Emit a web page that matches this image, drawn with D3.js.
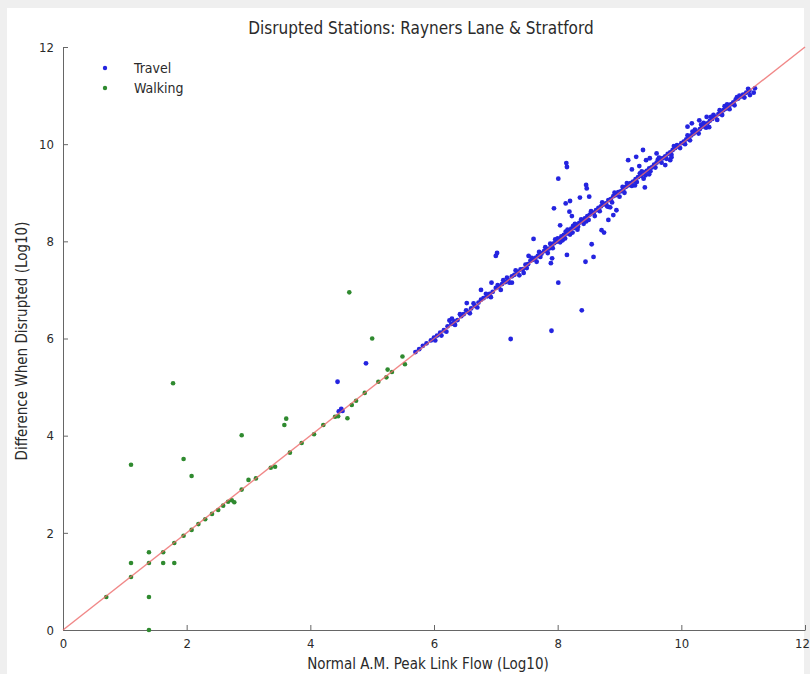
<!DOCTYPE html>
<html>
<head>
<meta charset="utf-8">
<script src="https://cdn.jsdelivr.net/npm/d3@7"></script>
<style>
  body { margin: 0; background: #efefef; }
  text { font-family: "Liberation Sans Narrow", "DejaVu Sans Condensed", sans-serif; fill: #2a2a2a; }
</style>
</head>
<body>
<div id="chart"></div>
<script>
// tick values on both axes
var ticks = [0, 2, 4, 6, 8, 10, 12];

// walking points [normal flow, disrupted] (log10)
var walking = [
  [0.70, 0.68], [1.10, 1.09], [1.39, 1.38], [1.62, 1.60], [1.80, 1.79], [1.95, 1.94],
  [2.08, 2.06], [2.19, 2.18], [2.30, 2.28], [2.41, 2.39], [2.51, 2.47], [2.59, 2.56],
  [2.67, 2.64], [2.73, 2.67], [2.77, 2.63], [2.89, 2.89], [3.00, 3.09], [3.12, 3.12],
  [3.36, 3.34], [3.43, 3.36], [3.67, 3.65], [3.86, 3.85], [4.06, 4.03], [4.21, 4.22],
  [4.40, 4.39], [4.45, 4.40], [4.67, 4.63], [4.74, 4.72], [4.88, 4.88], [5.10, 5.11],
  [5.23, 5.20], [5.32, 5.31], [5.53, 5.47],
  [1.10, 3.40], [1.78, 5.08], [1.95, 3.52], [2.08, 3.17], [1.39, 1.60], [1.10, 1.38],
  [1.62, 1.38], [1.80, 1.38], [1.39, 0.68], [1.39, 0.00], [2.89, 4.01], [3.61, 4.35],
  [3.58, 4.22], [4.60, 4.36], [4.63, 6.95], [5.00, 6.00], [5.25, 5.36], [5.49, 5.63]
];

// travel points [normal flow, disrupted] (log10)
var travel = [
  [4.46, 4.50], [4.50, 4.55], [4.52, 4.51], [4.44, 5.11], [4.90, 5.49],
  [5.70, 5.72], [5.76, 5.78], [5.82, 5.85], [5.88, 5.90], [5.95, 5.96], [6.00, 6.02],
  [6.05, 6.06], [6.10, 6.12], [6.16, 6.17], [6.22, 6.25], [6.28, 6.30], [6.25, 6.37],
  [6.33, 6.35], [6.38, 6.38], [6.44, 6.46], [6.48, 6.50], [6.52, 6.58], [6.55, 6.55],
  [6.60, 6.62], [6.66, 6.67], [6.72, 6.74], [6.76, 6.80], [6.80, 6.83], [6.86, 6.87],
  [6.90, 6.92], [6.95, 6.96], [7.00, 7.04], [7.03, 7.10], [7.05, 7.06], [7.10, 7.12],
  [7.15, 7.16], [7.18, 7.25], [7.20, 7.21], [7.26, 7.28], [7.30, 7.31], [7.35, 7.37],
  [7.40, 7.42], [7.44, 7.43], [7.45, 7.35], [7.48, 7.52], [7.52, 7.53], [7.56, 7.60],
  [7.60, 7.62], [7.64, 7.66], [7.68, 7.70], [7.70, 7.78], [7.74, 7.75], [7.78, 7.80],
  [7.82, 7.84], [7.86, 7.85], [7.88, 7.95], [7.90, 7.92], [7.94, 7.96], [7.98, 7.99],
  [8.00, 8.06], [8.03, 8.04], [8.06, 8.10], [8.08, 8.02], [8.10, 8.13], [8.13, 8.20],
  [8.15, 8.16], [8.18, 8.22], [8.20, 8.14], [8.22, 8.26], [8.25, 8.32], [8.27, 8.28],
  [8.30, 8.34], [8.33, 8.30], [8.35, 8.38], [8.38, 8.45], [8.40, 8.42], [8.44, 8.47],
  [8.46, 8.41], [8.48, 8.52], [8.52, 8.55], [8.55, 8.60], [8.58, 8.58], [8.62, 8.64],
  [8.66, 8.69], [8.70, 8.72], [8.74, 8.76], [8.78, 8.78], [8.82, 8.85], [8.85, 8.70],
  [8.86, 8.87], [8.90, 8.93], [8.94, 8.95], [8.98, 9.01], [9.02, 9.03], [9.05, 9.12],
  [9.06, 9.06], [9.10, 9.12], [9.14, 9.15], [9.18, 9.20], [9.22, 9.23], [9.25, 9.15],
  [9.26, 9.28], [9.30, 9.32], [9.33, 9.40], [9.35, 9.35], [9.40, 9.42], [9.44, 9.45],
  [9.48, 9.50], [9.52, 9.52], [9.56, 9.58], [9.60, 9.62], [9.62, 9.68], [9.65, 9.66],
  [9.70, 9.71], [9.74, 9.75], [9.78, 9.80], [9.82, 9.83], [9.86, 9.88], [9.90, 9.92],
  [9.93, 9.98], [9.95, 9.95], [10.00, 10.02], [10.04, 10.05], [10.08, 10.10], [10.10, 10.18],
  [10.12, 10.13], [10.16, 10.18], [10.20, 10.22], [10.22, 10.30], [10.25, 10.26], [10.30, 10.31],
  [10.34, 10.36], [10.36, 10.44], [10.38, 10.40], [10.42, 10.43], [10.45, 10.35], [10.46, 10.48],
  [10.50, 10.52], [10.52, 10.60], [10.55, 10.56], [10.60, 10.62], [10.64, 10.65], [10.68, 10.70],
  [10.70, 10.78], [10.72, 10.73], [10.76, 10.78], [10.80, 10.82], [10.84, 10.86], [10.88, 10.92],
  [10.92, 10.94], [10.96, 10.98], [11.00, 11.02], [11.05, 11.06], [11.10, 11.10], [11.11, 11.01],
  [11.17, 11.06], [11.19, 11.15],
  // band thickness either side of the diagonal
  [6.02, 5.96], [6.12, 6.06], [6.20, 6.14], [6.34, 6.28], [6.42, 6.50], [6.58, 6.52],
  [6.64, 6.72], [6.70, 6.64], [6.84, 6.92], [6.92, 6.85], [7.08, 7.00], [7.12, 7.20],
  [7.22, 7.15], [7.32, 7.40], [7.38, 7.30], [7.50, 7.45], [7.58, 7.66], [7.66, 7.58],
  [7.72, 7.68], [7.80, 7.88], [7.84, 7.76], [7.92, 7.86], [7.96, 8.04], [8.04, 7.98],
  [8.12, 8.06], [8.16, 8.24], [8.24, 8.18], [8.28, 8.36], [8.32, 8.24], [8.42, 8.36],
  [8.50, 8.44], [8.54, 8.62], [8.60, 8.52], [8.68, 8.62], [8.72, 8.80], [8.80, 8.72],
  [8.88, 8.80], [8.92, 9.00], [9.00, 8.92], [9.08, 9.00], [9.12, 9.20], [9.20, 9.14],
  [9.28, 9.22], [9.36, 9.44], [9.42, 9.36], [9.50, 9.44], [9.58, 9.52], [9.64, 9.72],
  [9.68, 9.62], [9.76, 9.70], [9.84, 9.78], [9.88, 9.96], [9.98, 9.92], [10.06, 10.00],
  [10.14, 10.08], [10.18, 10.26], [10.28, 10.22], [10.32, 10.40], [10.40, 10.34], [10.48, 10.56],
  [10.58, 10.50], [10.62, 10.70], [10.66, 10.60], [10.74, 10.82], [10.78, 10.72], [10.86, 10.80],
  [10.94, 11.00], [11.02, 10.96], [11.08, 11.14],
  // off-diagonal
  [6.29, 6.41], [6.53, 6.73], [6.76, 7.00], [6.93, 7.15], [7.00, 7.70], [7.02, 7.76],
  [7.26, 7.15], [7.24, 5.99], [7.53, 7.70], [7.61, 8.05], [7.89, 7.55], [7.90, 6.16],
  [7.91, 7.65], [7.94, 8.68], [8.01, 9.29], [8.01, 7.15], [8.04, 8.33], [8.13, 8.78],
  [8.14, 9.61], [8.15, 9.53], [8.15, 7.72], [8.19, 8.61], [8.20, 8.83], [8.23, 8.52],
  [8.36, 8.90], [8.39, 6.58], [8.45, 7.58], [8.46, 9.16], [8.47, 9.09], [8.51, 8.92],
  [8.55, 7.94], [8.58, 7.68], [8.71, 8.23], [8.75, 8.18], [8.82, 8.71], [8.82, 8.44],
  [8.90, 8.54], [8.95, 8.64], [9.14, 9.67], [9.20, 9.48], [9.27, 9.74], [9.32, 9.55],
  [9.38, 9.88], [9.39, 9.29], [9.41, 9.11], [9.43, 9.67], [9.48, 9.38], [9.49, 9.71],
  [9.60, 9.81], [9.74, 9.57], [9.82, 9.67], [9.84, 9.73], [10.10, 10.36], [10.17, 10.43],
  [10.29, 10.49], [10.41, 10.56], [10.84, 10.84], [10.90, 10.97], [11.00, 10.99]
];

var margin = {top: 47, right: 5, bottom: 44, left: 63},
  width = 805 - margin.left,
  height = 630 - margin.top;

var svg = d3.select("#chart")
  .append("svg")
  .attr("width", 810)
  .attr("height", 674);

svg.append("rect")
  .attr("x", 7).attr("y", 8)
  .attr("width", 797).attr("height", 666)
  .style("fill", "#ffffff");

var g = svg.append("g")
  .attr("transform", "translate(" + margin.left + "," + margin.top + ")");

var x = d3.scaleLinear().domain([0, 12]).range([0, width]);
var y = d3.scaleLinear().domain([0, 12]).range([height, 0]);

// axes, ticks pointing inward
var xAxis = g.append("g")
  .attr("transform", "translate(0," + height + ")")
  .call(d3.axisBottom(x).tickValues(ticks).tickSize(-5).tickPadding(9).tickSizeOuter(0));
var yAxis = g.append("g")
  .call(d3.axisLeft(y).tickValues(ticks).tickSize(-5).tickPadding(9).tickSizeOuter(0));

[xAxis, yAxis].forEach(function(a) {
  a.select(".domain").style("stroke", "#666");
  a.selectAll(".tick line").style("stroke", "#666");
  a.selectAll(".tick text").style("font-size", "13px")
    .style("font-family", "'Liberation Sans Narrow', 'DejaVu Sans Condensed', sans-serif")
    .style("fill", "#2a2a2a");
});
// last x label sits at the right edge
xAxis.selectAll(".tick text").filter(function(d) { return d === 12; }).attr("dx", "-3");

g.selectAll(".travel")
  .data(travel)
  .enter()
  .append("circle")
    .attr("class", "travel")
    .attr("cx", function(d) { return x(d[0]); })
    .attr("cy", function(d) { return y(d[1]); })
    .attr("r", 2.4)
    .style("fill", "#2424e0");

g.selectAll(".walking")
  .data(walking)
  .enter()
  .append("circle")
    .attr("class", "walking")
    .attr("cx", function(d) { return x(d[0]); })
    .attr("cy", function(d) { return y(d[1]); })
    .attr("r", 2.3)
    .style("fill", "#2f8a2f");

// y = x reference line
g.append("line")
  .attr("x1", x(0)).attr("y1", y(0))
  .attr("x2", x(12)).attr("y2", y(12))
  .style("stroke", "#ee6a6a")
  .style("stroke-width", 1.4)
  .style("opacity", 0.8);

// legend
var legend = [["Travel", "#2424e0"], ["Walking", "#2f8a2f"]];
legend.forEach(function(l, i) {
  svg.append("circle")
    .attr("cx", 105).attr("cy", 68 + i * 20)
    .attr("r", 2.2)
    .style("fill", l[1]);
  svg.append("text")
    .attr("x", 134).attr("y", 73 + i * 20)
    .style("font-size", "14px")
    .text(l[0]);
});

svg.append("text")
  .attr("x", 421).attr("y", 34)
  .attr("text-anchor", "middle")
  .style("font-size", "17px")
  .text("Disrupted Stations: Rayners Lane & Stratford");

svg.append("text")
  .attr("x", 428).attr("y", 669)
  .attr("text-anchor", "middle")
  .style("font-size", "15px")
  .text("Normal A.M. Peak Link Flow (Log10)");

svg.append("text")
  .attr("text-anchor", "middle")
  .attr("transform", "translate(27,341) rotate(-90)")
  .style("font-size", "15px")
  .text("Difference When Disrupted  (Log10)");
</script>
</body>
</html>
